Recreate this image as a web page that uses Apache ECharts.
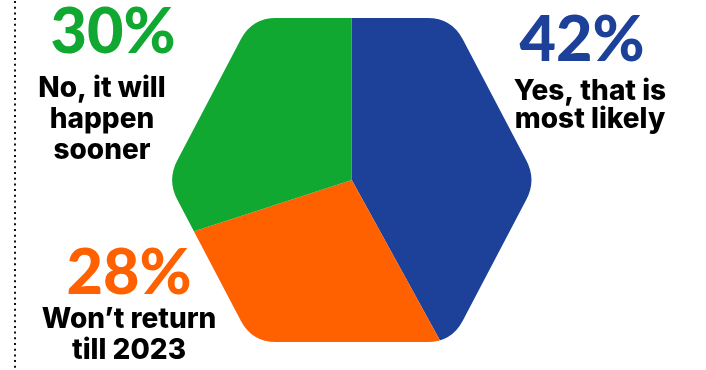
<!DOCTYPE html>
<html><head><meta charset="utf-8">
<script src="https://cdn.jsdelivr.net/npm/echarts@6/dist/echarts.min.js"></script>
<style>html,body{margin:0;padding:0;background:#fff}#c{width:706px;height:370px}</style>
</head><body><div id="c"></div>
<script>
// ---- data ----
const categories = ['Yes, that is\nmost likely', 'Won\u2019t return\ntill 2023', 'No, it will\nhappen\nsooner'];
const values = [42, 28, 30];
const colors = ['#1d4198', '#ff6000', '#11a832'];

// ---- layout / style (not data) ----
const PCT_FONT = 'Lato';
const NAME_FONT = 'Inter';
const CX = 351.8, CY = 180;
const labelPos = [[590, 5], [129, 244], [102, -7]];
const pctLH = [72, 60, 80];
const pctPad = [[0, 16, 0, 0], [0, 0, 0, 0], [0, 0, 0, 22]];
const nameLH = [28.5, 31, 31];

// hexagon with rounded corners (mask hole)
const hexPts = [[252, 18], [167, 180], [252, 342], [451.6, 342], [536.6, 180], [451.6, 18]];
const cornerD = [24, 22, 24, 24, 22, 24];
function hexPath() {
  let d = 'M0 0 L706 0 L706 370 L0 370 Z ';
  const n = hexPts.length;
  for (let i = 0; i < n; i++) {
    const V = hexPts[i], P = hexPts[(i + n - 1) % n], N = hexPts[(i + 1) % n];
    const lp = Math.hypot(P[0] - V[0], P[1] - V[1]), ln = Math.hypot(N[0] - V[0], N[1] - V[1]);
    const r = cornerD[i];
    const A = [V[0] + r * (P[0] - V[0]) / lp, V[1] + r * (P[1] - V[1]) / lp];
    const B = [V[0] + r * (N[0] - V[0]) / ln, V[1] + r * (N[1] - V[1]) / ln];
    d += (i === 0 ? 'M' : 'L') + A[0] + ' ' + A[1] + ' Q' + V[0] + ' ' + V[1] + ' ' + B[0] + ' ' + B[1] + ' ';
  }
  return d + 'Z';
}

const chart = echarts.init(document.getElementById('c'), null, {renderer: 'canvas'});
const sliceData = values.map((v, i) => ({value: v, name: categories[i], itemStyle: {color: colors[i]}}));
const labelData = values.map((v, i) => {
  const rich = {
    pct: {fontFamily: PCT_FONT, fontWeight: 900, fontSize: 63, lineHeight: pctLH[i], color: colors[i], padding: pctPad[i]},
    nm: {fontFamily: NAME_FONT, fontWeight: 800, fontSize: 28, lineHeight: nameLH[i], color: '#000'}
  };
  return {
    value: v, name: categories[i],
    itemStyle: {color: 'rgba(0,0,0,0)'},
    label: {rich: rich}
  };
});

chart.setOption({
  animation: false,
  backgroundColor: '#fff',
  graphic: [
    {type: 'line', z: 20, silent: true, shape: {x1: 15, y1: 1, x2: 15, y2: 370}, style: {stroke: '#111', lineWidth: 2, lineDash: [2, 3.7]}}
  ],
  series: [
    {
      type: 'pie', z: 1, silent: true, center: [CX, CY], radius: [0, 210], startAngle: 90, clockwise: true,
      label: {show: false}, labelLine: {show: false}, itemStyle: {borderWidth: 0},
      data: sliceData
    },
    {
      type: 'custom', z: 5, silent: true, coordinateSystem: 'none', data: [0],
      renderItem: () => ({type: 'path', shape: {pathData: hexPath()}, style: {fill: '#fff'}})
    },
    {
      type: 'pie', z: 10, silent: true, center: [CX, CY], radius: [0, 210], startAngle: 90, clockwise: true,
      avoidLabelOverlap: false,
      label: {
        show: true, position: 'outside', align: 'center',
        formatter: p => '{pct|' + p.value + '%}\n' + p.name.split('\n').map(s => '{nm|' + s + '}').join('\n')
      },
      labelLine: {show: false},
      labelLayout: p => ({x: labelPos[p.dataIndex][0], y: labelPos[p.dataIndex][1], align: 'center', verticalAlign: 'top'}),
      data: labelData
    }
  ]
});
</script></body></html>
